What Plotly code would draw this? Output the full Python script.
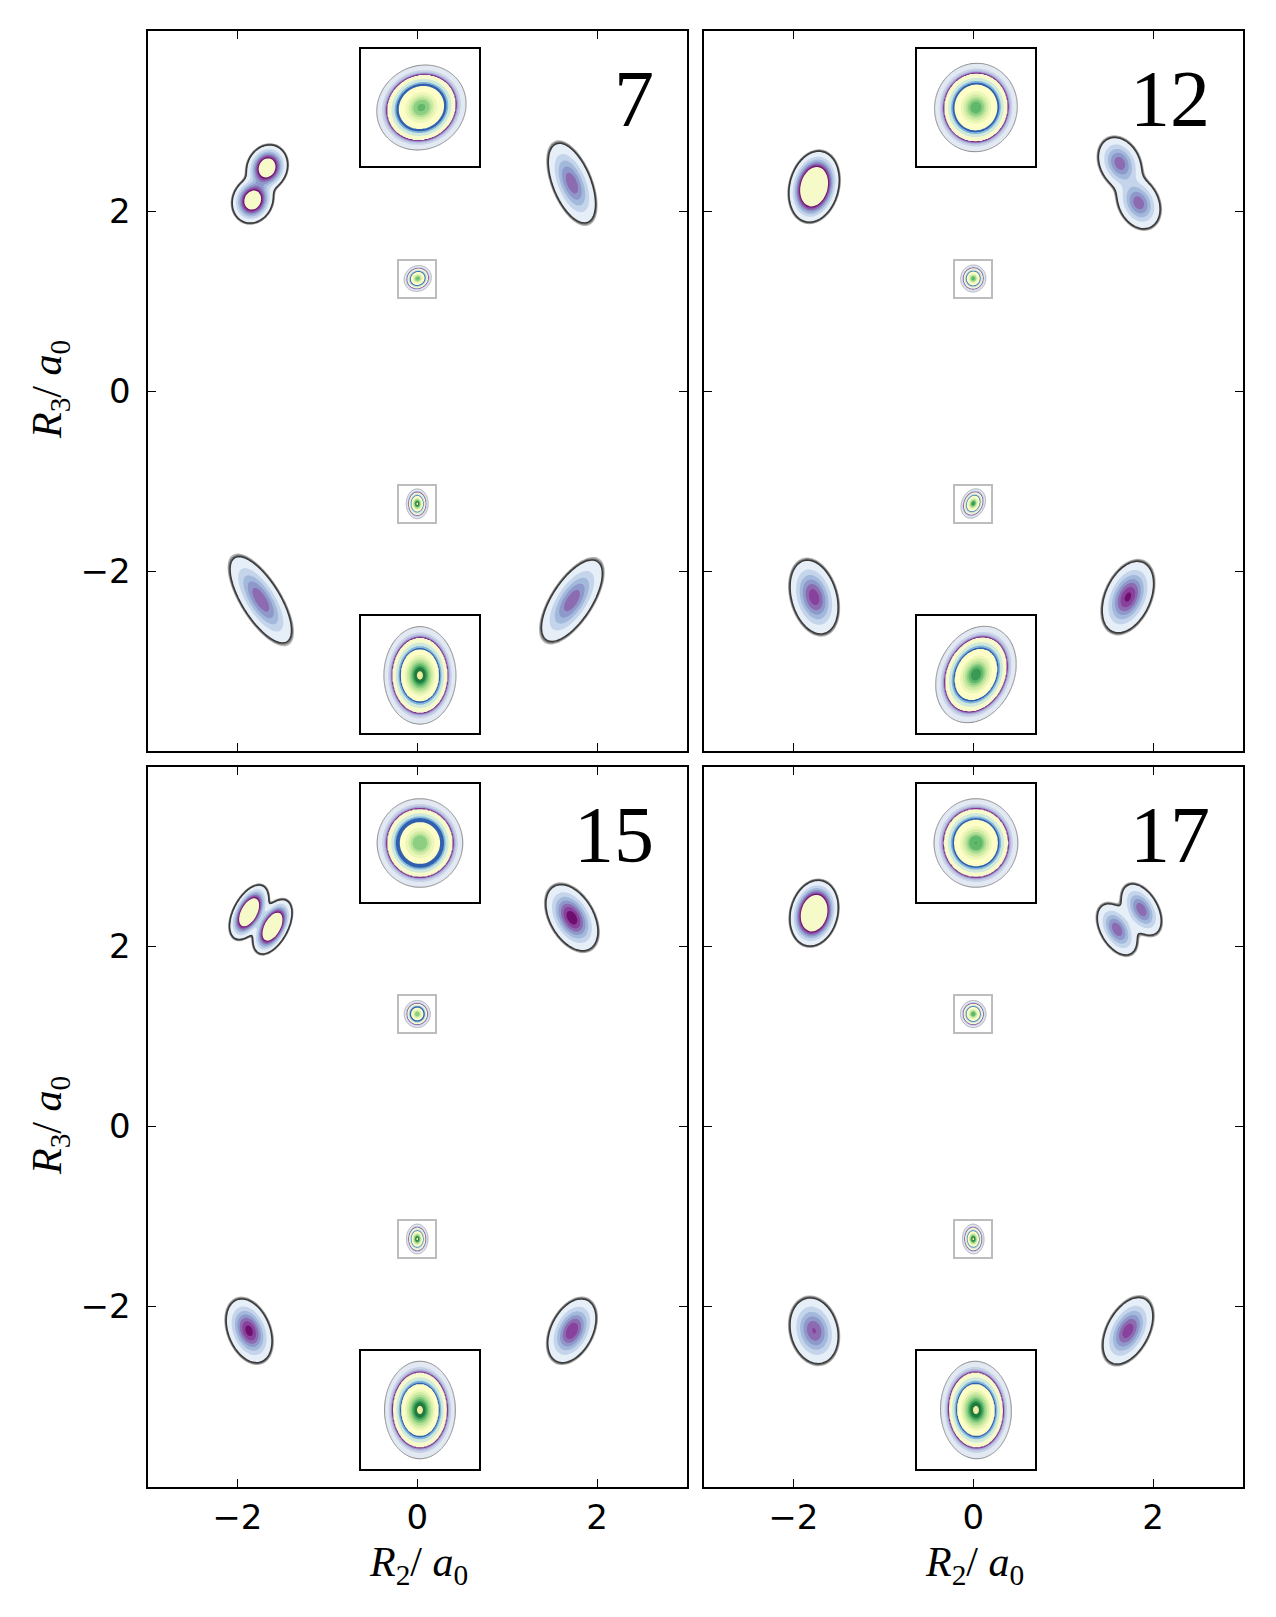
import numpy as np
import plotly.graph_objects as go

W, H = 1276, 1617

# ---------------- data ----------------
PANEL_LABELS = ["7", "12", "15", "17"]
X_RANGE = [-3, 3]
Y_RANGE = [-4, 4]
TICK_VALS = [-2, 0, 2]
TICK_TEXT = ["\u22122", "0", "2"]
X_TITLE = "<i>R</i><sub>2</sub>/ <i>a</i><sub>0</sub>"
Y_TITLE = "<i>R</i><sub>3</sub>/ <i>a</i><sub>0</sub>"

# outer probability lobes (one row per lobe)
BLOB_PANEL = [0, 0, 0, 0, 0,
              1, 1, 1, 1, 1,
              2, 2, 2, 2, 2,
              3, 3, 3, 3, 3]
BLOB_CX = [-1.67, -1.83, 1.72, -1.74, 1.72,
           -1.77, 1.63, 1.84, -1.77, 1.72,
           -1.87, -1.61, 1.72, -1.87, 1.72,
           -1.77, 1.87, 1.60, -1.77, 1.72]
BLOB_CY = [2.48, 2.12, 2.31, -2.32, -2.33,
           2.27, 2.53, 2.09, -2.29, -2.29,
           2.38, 2.22, 2.32, -2.27, -2.27,
           2.37, 2.41, 2.19, -2.27, -2.27]
BLOB_A = [0.26, 0.26, 0.47, 0.55, 0.52,
          0.40, 0.30, 0.30, 0.42, 0.42,
          0.33, 0.33, 0.40, 0.37, 0.38,
          0.37, 0.31, 0.31, 0.37, 0.40]
BLOB_B = [0.22, 0.22, 0.21, 0.21, 0.22,
          0.27, 0.22, 0.22, 0.25, 0.25,
          0.17, 0.17, 0.24, 0.23, 0.23,
          0.26, 0.18, 0.18, 0.26, 0.23]
BLOB_ANG = [66, 66, -68, -58, 57,
            76, -64, -64, -74, 66,
            62, 62, -60, -68, 63,
            76, -60, -60, -76, 62]
BLOB_PEAK = [13, 13, 5.3, 5.4, 5.3,
             25, 5.2, 5.2, 6.2, 6.8,
             20, 20, 7.3, 7.0, 6.5,
             25, 5.3, 5.3, 5.6, 6.2]

# central peaks shown in the small boxes and magnified insets
INSET_PANEL = [0, 0, 1, 1, 2, 2, 3, 3]
INSET_CY = [1.25, -1.25, 1.25, -1.25, 1.25, -1.25, 1.25, -1.25]
INSET_DX = [0.005, 0.0, 0.0, 0.0, 0.0, 0.0, 0.0, 0.0]
INSET_DY = [0.0, -0.003, 0.0, 0.0, 0.0, 0.0, 0.0, 0.0]
INSET_A = [0.155, 0.165, 0.150, 0.170, 0.150, 0.165, 0.150, 0.165]
INSET_B = [0.140, 0.122, 0.140, 0.128, 0.145, 0.120, 0.142, 0.120]
INSET_ANG = [30, 90, 80, 65, 90, 90, 90, 92]
INSET_PEAK = [16.8, 20.3, 17.2, 18.4, 16.3, 20.3, 17.6, 20.3]

# radial level profile of the central peaks (0 = centre, 1 = outline)
PROFILE_D = [0.0, 0.084, 0.16, 0.19, 0.23, 0.27, 0.32, 0.37, 0.42, 0.54, 0.56,
             0.60, 0.67, 0.775, 0.785, 0.79, 0.80, 0.82, 0.84, 0.88, 1.0]
PROFILE_Z = [20.3, 19.5, 18.5, 17.5, 16.5, 15.5, 14.5, 13.5, 12.5, 11.5, 10.5,
             9.5, 8.5, 7.5, 6.5, 5.5, 4.5, 3.5, 2.5, 1.5, 0.5]

MAIN_COLORS = ['#ffffff', '#e6eef7', '#c4d4ea', '#a3b9dc', '#8f98cb',
               '#8c6bb1', '#88419d', '#6e0f6e', '#f6f9c8']
INSET_COLORS = ['#ffffff', '#e2e9f3', '#c9d3e8', '#b8c0e0', '#a9a6d4', '#9a80c0',
                '#8c50a8', '#7a2a8a', '#f6f9cc', '#cfe8dc', '#82b6dc', '#3161ae',
                '#fdfdc8', '#ebf6b8', '#d3eda6', '#b3df96', '#8ccf82', '#60b86b',
                '#3a9a55', '#1f7a3e', '#f1eca4']
EDGE_COLORS = ['#b4b4b4', '#767676', '#3a3a3a']

# ---------------- layout geometry (pixels) ----------------
PANEL_X_PX = [(147.5, 687.0), (703.5, 1243.0), (147.5, 687.0), (703.5, 1243.0)]
PANEL_Y_PX = [(31.0, 751.0), (31.0, 751.0), (766.5, 1486.5), (766.5, 1486.5)]
SMALL_HALF = 0.2
BIG_CX = 0.03
BIG_CY = 3.15
BIG_HALF = 0.655
INNER_R = 0.55


def paper_x(p, d):
    x0, x1 = PANEL_X_PX[p]
    return (x0 + (d - X_RANGE[0]) / (X_RANGE[1] - X_RANGE[0]) * (x1 - x0)) / W


def paper_y(p, d):
    y0, y1 = PANEL_Y_PX[p]
    return 1 - (y1 - (d - Y_RANGE[0]) / (Y_RANGE[1] - Y_RANGE[0]) * (y1 - y0)) / H


def cscale(colors):
    n = len(colors) - 1
    return [[k / n, c] for k, c in enumerate(colors)]


def rot(X, Y, cx, cy, ang):
    t = np.deg2rad(ang)
    u = (X - cx) * np.cos(t) + (Y - cy) * np.sin(t)
    v = -(X - cx) * np.sin(t) + (Y - cy) * np.cos(t)
    return u, v


def main_field(p, X, Y):
    Z = np.zeros_like(X)
    for i in range(len(BLOB_PANEL)):
        if BLOB_PANEL[i] != p:
            continue
        pk = BLOB_PEAK[i]
        de = np.sqrt(2 * np.log(2 * pk))
        sa, sb = BLOB_A[i] / de, BLOB_B[i] / de
        u, v = rot(X, Y, BLOB_CX[i], BLOB_CY[i], BLOB_ANG[i])
        Z += pk * np.exp(-0.5 * ((u / sa) ** 2 + (v / sb) ** 2))
    return np.round(Z, 3)


PD = np.array(PROFILE_D)
PZ = np.array(PROFILE_Z)


def inset_field(i, X, Y):
    u, v = rot(X, Y, INSET_DX[i], INSET_CY[i] + INSET_DY[i], INSET_ANG[i])
    r = np.sqrt((u / INSET_A[i]) ** 2 + (v / INSET_B[i]) ** 2)
    base = np.interp(np.minimum(r, 1.0), PD, PZ)
    drop = (PZ[0] - INSET_PEAK[i]) * np.clip(1 - r / INNER_R, 0, 1)
    Z = np.where(r <= 1, base - drop, 0.5 - (r - 1) * 5)
    return np.round(Z, 3)


fig = go.Figure()
layout = dict(width=W, height=H, autosize=False,
              margin=dict(l=0, r=0, t=0, b=0),
              paper_bgcolor='white', plot_bgcolor='white',
              showlegend=False, annotations=[])


def axname(n, kind):
    return kind + ('' if n == 1 else str(n))


xs = np.linspace(-2.7, 2.7, 271)
ybands = [np.linspace(1.4, 3.2, 91), np.linspace(-3.2, -1.4, 91)]

for p in range(4):
    base = 5 * p + 1
    bottom = p >= 2
    left = p % 2 == 0
    xa, ya = axname(base, 'x'), axname(base, 'y')
    common = dict(showgrid=False, zeroline=False, showline=True, linecolor='black',
                  linewidth=2, mirror='ticks', ticks='inside', ticklen=8, tickwidth=1.3,
                  tickcolor='black', tickvals=TICK_VALS, ticktext=TICK_TEXT,
                  tickfont=dict(family='DejaVu Sans', size=34, color='black'))
    layout[axname(base, 'xaxis')] = dict(common, domain=[PANEL_X_PX[p][0] / W, PANEL_X_PX[p][1] / W],
                                         range=X_RANGE, anchor=ya, showticklabels=bottom,
                                         ticklabelstandoff=0)
    layout[axname(base, 'yaxis')] = dict(common, domain=[paper_y(p, Y_RANGE[0]), paper_y(p, Y_RANGE[1])],
                                         range=Y_RANGE, anchor=xa, showticklabels=left,
                                         ticklabelstandoff=8)
    for yb in ybands:
        X, Y = np.meshgrid(xs, yb)
        Z = main_field(p, X, Y)
        fig.add_trace(go.Contour(x=xs, y=yb, z=Z, xaxis=xa, yaxis=ya, autocontour=False,
                                 contours=dict(start=0.5, end=7.5, size=1, coloring='fill'),
                                 colorscale=cscale(MAIN_COLORS), showscale=False,
                                 line=dict(width=0), hoverinfo='skip'))
        fig.add_trace(go.Contour(x=xs, y=yb, z=Z, xaxis=xa, yaxis=ya, autocontour=False,
                                 contours=dict(start=0.38, end=0.5, size=0.06, coloring='lines'),
                                 colorscale=cscale(EDGE_COLORS), showscale=False,
                                 line=dict(width=1.5), hoverinfo='skip'))
    layout['annotations'].append(dict(text=PANEL_LABELS[p], xref=xa, yref=ya,
                                      x=2.66, y=3.24, xanchor='right', yanchor='middle',
                                      showarrow=False,
                                      font=dict(family='Liberation Serif', size=80, color='black')))

    idx = [i for i in range(len(INSET_PANEL)) if INSET_PANEL[i] == p]
    for kind in ('small', 'big'):
        for j, i in enumerate(idx):
            n = base + 1 + j + (0 if kind == 'small' else 2)
            xa2, ya2 = axname(n, 'x'), axname(n, 'y')
            cy = INSET_CY[i]
            if kind == 'small':
                dx0, dx1 = -SMALL_HALF, SMALL_HALF
                dy0, dy1 = cy - SMALL_HALF, cy + SMALL_HALF
                lc, lw = '#bdbdbd', 1.6
            else:
                sgn = 1 if cy > 0 else -1
                dx0, dx1 = BIG_CX - BIG_HALF, BIG_CX + BIG_HALF
                dy0, dy1 = sgn * BIG_CY - BIG_HALF, sgn * BIG_CY + BIG_HALF
                lc, lw = 'black', 2
            axc = dict(showgrid=False, zeroline=False, showline=True, linecolor=lc,
                       linewidth=lw, mirror=True, ticks='', showticklabels=False)
            layout[axname(n, 'xaxis')] = dict(axc, domain=[paper_x(p, dx0), paper_x(p, dx1)],
                                              range=[-SMALL_HALF, SMALL_HALF], anchor=ya2)
            layout[axname(n, 'yaxis')] = dict(axc, domain=[paper_y(p, dy0), paper_y(p, dy1)],
                                              range=[cy - SMALL_HALF, cy + SMALL_HALF], anchor=xa2)
            gx = np.linspace(-SMALL_HALF, SMALL_HALF, 121)
            gy = np.linspace(cy - SMALL_HALF, cy + SMALL_HALF, 121)
            X, Y = np.meshgrid(gx, gy)
            Z = inset_field(i, X, Y)
            fig.add_trace(go.Contour(x=gx, y=gy, z=Z, xaxis=xa2, yaxis=ya2, autocontour=False,
                                     contours=dict(start=0.5, end=19.5, size=1, coloring='fill'),
                                     colorscale=cscale(INSET_COLORS), showscale=False,
                                     line=dict(width=0), hoverinfo='skip'))
            fig.add_trace(go.Contour(x=gx, y=gy, z=Z, xaxis=xa2, yaxis=ya2, autocontour=False,
                                     contours=dict(start=0.5, end=0.5, size=1, coloring='none'),
                                     showscale=False,
                                     line=dict(width=1.0 if kind == 'big' else 0.6, color='#8a8a8a'),
                                     hoverinfo='skip'))

for yc in (390, 1126):
    layout['annotations'].append(dict(text=Y_TITLE, xref='paper', yref='paper', x=50 / W,
                                      y=1 - yc / H, textangle=-90, showarrow=False,
                                      xanchor='center', yanchor='middle',
                                      font=dict(family='Liberation Serif', size=42, color='black')))
for xc in (418, 974):
    layout['annotations'].append(dict(text=X_TITLE, xref='paper', yref='paper', x=xc / W,
                                      y=1 - 1565 / H, showarrow=False,
                                      xanchor='center', yanchor='middle',
                                      font=dict(family='Liberation Serif', size=42, color='black')))

fig.update_layout(**layout)
fig.write_html("out.html")
